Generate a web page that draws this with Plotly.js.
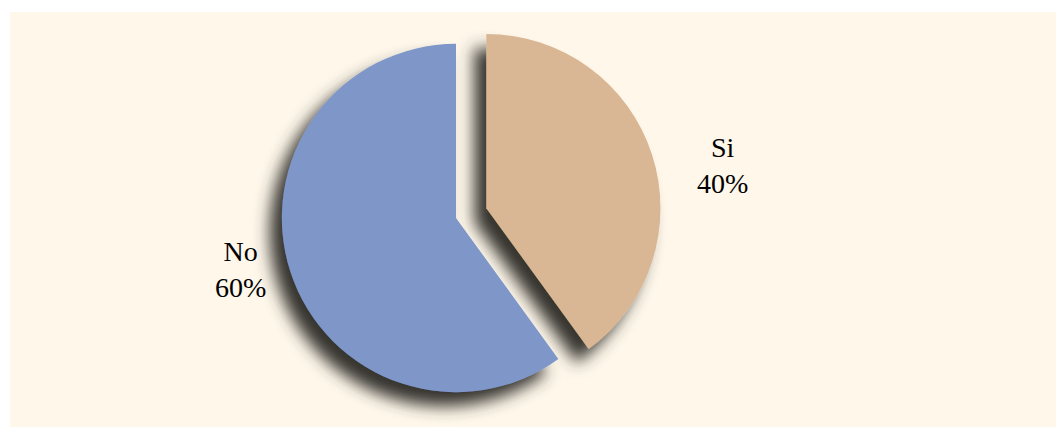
<!DOCTYPE html>
<html>
<head>
<meta charset="utf-8">
<script src="https://cdn.plot.ly/plotly-3.0.1.min.js"></script>
<style>
  html, body { margin: 0; padding: 0; background: #ffffff; width: 1056px; height: 427px; overflow: hidden; }
  #chart { position: absolute; left: 10px; top: 12px; width: 1046px; height: 415px; }
</style>
</head>
<body>
<div id="chart"></div>
<script>
// Data
const categories = ["Si", "No"];
const values = [40, 60];
const percentLabels = ["40%", "60%"];
const sliceColors = ["#D9B794", "#7F96C8"];
const pulls = [0.183, 0];

const trace = {
  type: "pie",
  labels: categories,
  values: values,
  sort: false,
  direction: "clockwise",
  rotation: 0,
  pull: pulls,
  marker: { colors: sliceColors, line: { width: 0 } },
  textinfo: "none",
  hoverinfo: "label+percent",
  showlegend: false,
  domain: { x: [0, 0.8528], y: [0, 1] }
};

// label anchor positions (paper coords)
const labelPos = [[0.6807, 0.6286], [0.2199, 0.3762]];
const annotations = categories.map((c, i) => ({
  xref: "paper", yref: "paper",
  x: labelPos[i][0], y: labelPos[i][1],
  xanchor: "center", yanchor: "middle",
  text: c + "<br>" + percentLabels[i],
  showarrow: false,
  align: "center",
  font: { family: "'Liberation Serif', 'Times New Roman', Times, serif", size: 28, color: "#000000" }
}));

const layout = {
  width: 1046, height: 415,
  margin: { l: 0, r: 0, t: 0, b: 3 },
  paper_bgcolor: "#FEF7EA",
  plot_bgcolor: "#FEF7EA",
  annotations: annotations,
  showlegend: false
};

Plotly.newPlot("chart", [trace], layout, { displayModeBar: false, staticPlot: true }).then(function (gd) {
  const svg = gd.querySelector("svg.main-svg");
  const ns = "http://www.w3.org/2000/svg";
  let defs = svg.querySelector("defs");
  if (!defs) { defs = document.createElementNS(ns, "defs"); svg.insertBefore(defs, svg.firstChild); }
  const f = document.createElementNS(ns, "filter");
  f.setAttribute("id", "pieShadow");
  f.setAttribute("x", "-30%"); f.setAttribute("y", "-30%");
  f.setAttribute("width", "160%"); f.setAttribute("height", "160%");
  f.innerHTML =
    '<feGaussianBlur in="SourceAlpha" stdDeviation="8" result="blur"/>' +
    '<feOffset in="blur" dx="-12" dy="14" result="off"/>' +
    '<feFlood flood-color="#36342f" flood-opacity="1"/>' +
    '<feComposite in2="off" operator="in" result="shadow"/>' +
    '<feMerge><feMergeNode in="shadow"/><feMergeNode in="SourceGraphic"/></feMerge>';
  defs.appendChild(f);
  gd.querySelectorAll(".pielayer g.trace").forEach(function (g) {
    g.setAttribute("filter", "url(#pieShadow)");
  });
});
</script>
</body>
</html>
